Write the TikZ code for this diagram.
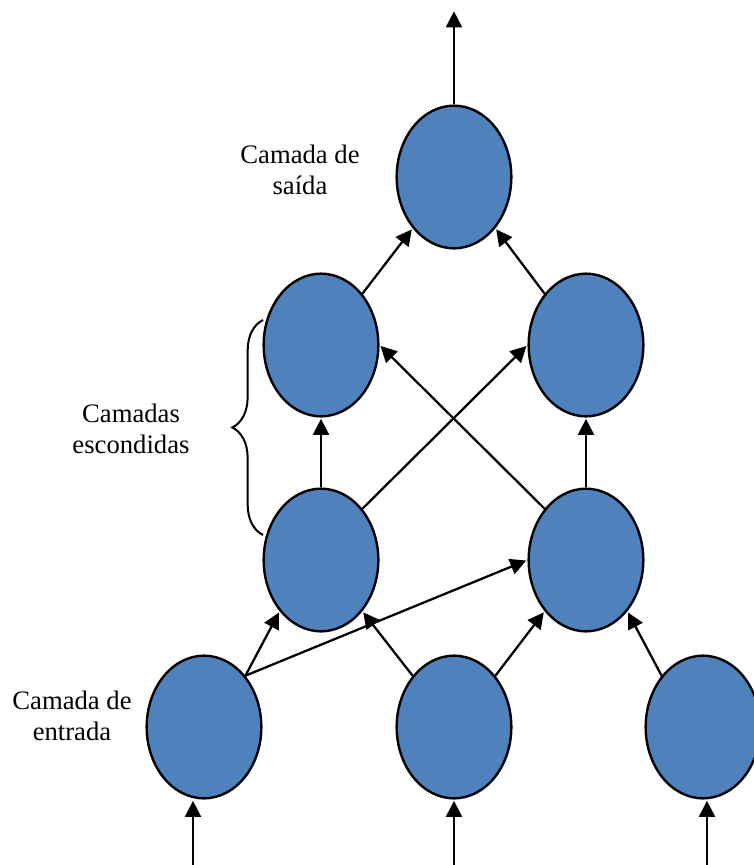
\documentclass[tikz,border=0pt]{standalone}
\usepackage{fontspec}
\setmainfont{Liberation Serif}
\usetikzlibrary{arrows.meta,shapes.geometric,decorations.pathreplacing}
\begin{document}
\begin{tikzpicture}[x=.75pt, y=-.75pt]
  % Colors
  \definecolor{neuron}{HTML}{4f81bd}
  \definecolor{outline}{HTML}{000000}

  % Configurations
  \tikzset{
    neuron/.style={ellipse, draw=outline, fill=neuron, line width=1.8pt,
      minimum width=86pt, minimum height=107pt, inner sep=0pt},
    link/.style={line width=1.7pt, draw=outline,
      -{Triangle[length=12pt, width=12pt]}, shorten >=1pt},
    caption/.style={align=center, font=\fontsize{20}{23}\selectfont}
  }

  % Bounding box
  \useasboundingbox (0,0) rectangle (754,865);
  \clip (0,0) rectangle (754,865);

  % Neurons
  \node [neuron] (out) at (454,177) {};
  \node [neuron] (hbl) at (321,345) {};
  \node [neuron] (hbr) at (586,345) {};
  \node [neuron] (hal) at (321,560) {};
  \node [neuron] (har) at (586,560) {};
  \node [neuron] (inl) at (204,727) {};
  \node [neuron] (inm) at (454,727) {};
  \node [neuron] (inr) at (703,727) {};

  % Free ends
  \coordinate (top) at (454,10);
  \coordinate (bl) at (193,865);
  \coordinate (bm) at (454,865);
  \coordinate (br) at (707,865);

  % Input arrows
  \draw [link] (bl) -- (bl |- inl.south);
  \draw [link] (bm) -- (inm.south);
  \draw [link] (br) -- (br |- inr.south);
  % Input to first hidden layer
  \draw [link] (inl.north east) -- (hal.south west);
  \draw [link] (inl.north east) -- (har.west);
  \draw [link] (inm.north west) -- (hal.south east);
  \draw [link] (inm.north east) -- (har.south west);
  \draw [link] (inr.north west) -- (har.south east);
  % First to second hidden layer
  \draw [link] (hal.north) -- (hbl.south);
  \draw [link] (hal.north east) -- (hbr.west);
  \draw [link] (har.north west) -- (hbl.east);
  \draw [link] (har.north) -- (hbr.south);
  % Second hidden layer to output
  \draw [link] (hbl.north east) -- (out.south west);
  \draw [link] (hbr.north west) -- (out.south east);
  \draw [link] (out.north) -- (top);

  % Brace
  \draw [line width=1.5pt, decorate, decoration={brace, amplitude=23pt}]
  (263,535) -- (263,320);

  % Labels
  \node [caption] (lout) at (300,170) {Camada de\\saída};
  \node [caption] (lhid) at (131,429) {Camadas\\escondidas};
  \node [caption] (lin) at (72,716) {Camada de\\entrada};
\end{tikzpicture}
\end{document}
